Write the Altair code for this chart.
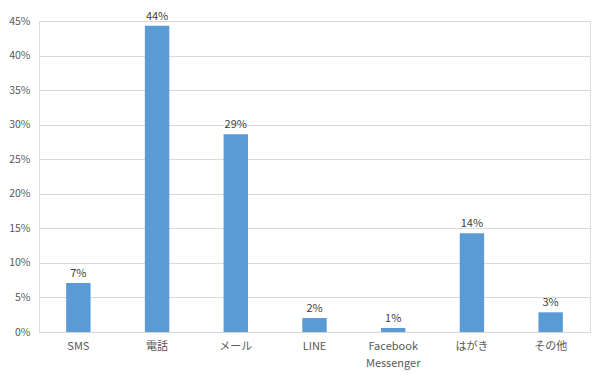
import altair as alt
import pandas as pd

categories = ["SMS", "電話", "メール", "LINE", "Facebook Messenger", "はがき", "その他"]
values = [0.0708, 0.443, 0.286, 0.0202, 0.0058, 0.143, 0.0285]
y_ticks = [0, 0.05, 0.10, 0.15, 0.20, 0.25, 0.30, 0.35, 0.40, 0.45]

df = pd.DataFrame({"cat": categories, "val": values})

FONT = "Noto Sans CJK JP"

x = alt.X("cat:N", sort=categories, title=None,
          scale=alt.Scale(paddingInner=0.69, paddingOuter=0.345),
          axis=alt.Axis(labelAngle=0, ticks=False, domain=True, domainColor="#d9d9d9",
                        labelPadding=8, labelFontSize=11, labelColor="#595959", labelFont=FONT,
                        labelLineHeight=17,
                        labelExpr="datum.label == 'Facebook Messenger' ? ['Facebook', 'Messenger'] : datum.label"))
y = alt.Y("val:Q", title=None,
          scale=alt.Scale(domain=[0, 0.45], nice=False),
          axis=alt.Axis(format=".0%", values=y_ticks, ticks=False, domain=False,
                        labelOverlap=False, labelBound=False,
                        gridColor="#d9d9d9", labelFontSize=10.5, labelColor="#595959", labelFont=FONT,
                        labelPadding=9))

bars = alt.Chart(df).mark_bar(color="#5b9bd5").encode(x=x, y=y)
labels = alt.Chart(df).mark_text(dy=-9, fontSize=11, color="#404040", font=FONT).encode(
    x=x, y=y, text=alt.Text("val:Q", format=".0%"))

chart = (bars + labels).properties(
    width=551, height=311,
    autosize=alt.AutoSizeParams(type="none"),
    padding={"left": 31, "top": 13, "right": 2, "bottom": 42},
).configure_view(stroke=None).configure(background="white")

chart.save("out.html", embed_options={"renderer": "svg", "actions": False})
